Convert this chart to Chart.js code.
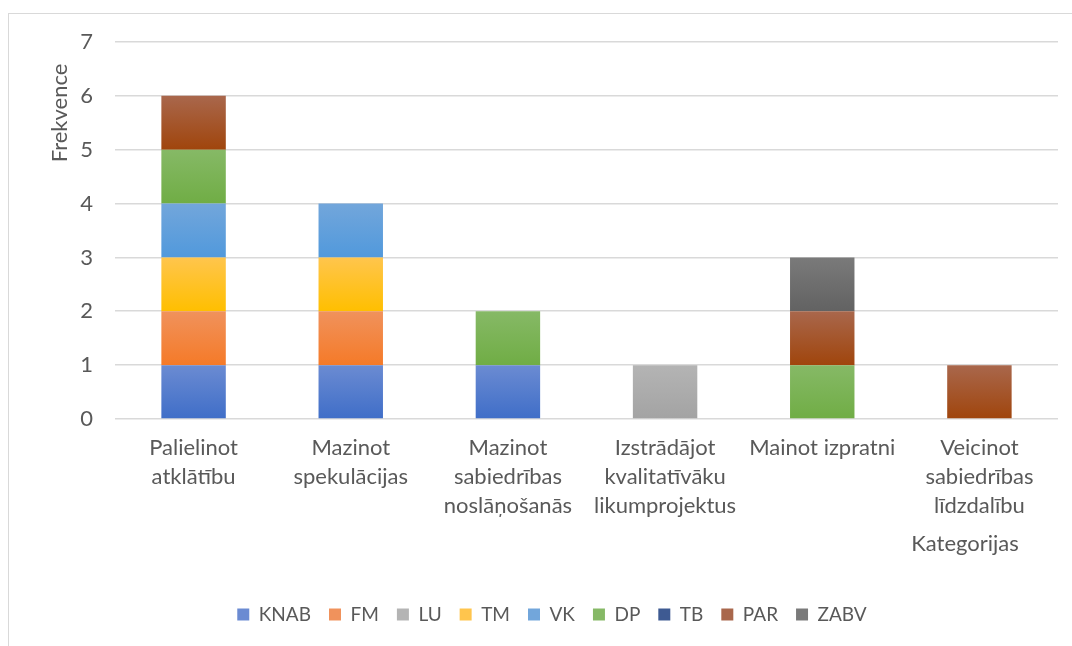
<!DOCTYPE html>
<html>
<head>
<meta charset="utf-8">
<script src="https://cdn.jsdelivr.net/npm/chart.js@4.4.1/dist/chart.umd.min.js"></script>
<style>
  body { margin: 0; background: #fff; }
  #frame { position: absolute; left: 8px; top: 13px; width: 1100px; height: 700px; border-left: 1.5px solid #d9d9d9; border-top: 1.5px solid #d9d9d9; }
  #wrap { position: absolute; left: 0; top: 0; width: 1072px; height: 646px; }
</style>
</head>
<body>
<div id="frame"></div>
<div id="wrap"><canvas id="chart"></canvas></div>
<script>
// categories (x axis), multi-line like in the original
var categories = [
  ["Palielinot", "atklātību"],
  ["Mazinot", "spekulācijas"],
  ["Mazinot", "sabiedrības", "noslāņošanās"],
  ["Izstrādājot", "kvalitatīvāku", "likumprojektus"],
  ["Mainot izpratni"],
  ["Veicinot", "sabiedrības", "līdzdalību"]
];

// one array per institution
var dataKNAB = [1, 1, 1, 0, 0, 0];
var dataFM   = [1, 1, 0, 0, 0, 0];
var dataLU   = [0, 0, 0, 1, 0, 0];
var dataTM   = [1, 1, 0, 0, 0, 0];
var dataVK   = [1, 1, 0, 0, 0, 0];
var dataDP   = [1, 0, 1, 0, 1, 0];
var dataTB   = [0, 0, 0, 0, 0, 0];
var dataPAR  = [1, 0, 0, 0, 1, 1];
var dataZABV = [0, 0, 0, 0, 1, 0];

var yTicks = [0, 1, 2, 3, 4, 5, 6, 7];

// [light top, dark bottom] like the excel gradient
var colKNAB = ["#6b8bd2", "#3f6ec8"];
var colFM   = ["#f0925c", "#f57a28"];
var colLU   = ["#b4b4b4", "#a3a3a3"];
var colTM   = ["#ffc54d", "#ffbf00"];
var colVK   = ["#72a6db", "#5199dc"];
var colDP   = ["#86b966", "#70ad45"];
var colTB   = ["#3e5a92", "#22427a"];
var colPAR  = ["#a9674c", "#a0450c"];
var colZABV = ["#7a7a7a", "#626262"];

var textColor = "#595959";
var fontName = "Lato, 'Open Sans', sans-serif";

var series = [
  ["KNAB", dataKNAB, colKNAB],
  ["FM", dataFM, colFM],
  ["LU", dataLU, colLU],
  ["TM", dataTM, colTM],
  ["VK", dataVK, colVK],
  ["DP", dataDP, colDP],
  ["TB", dataTB, colTB],
  ["PAR", dataPAR, colPAR],
  ["ZABV", dataZABV, colZABV]
];

// gradient for one stacked segment, from its own top to bottom
function segmentFill(ctx, idx) {
  var chart = ctx.chart;
  var cols = series[idx][2];
  if (!chart.chartArea || !chart.scales.y || ctx.type !== "data") return cols[0];
  var j = ctx.dataIndex;
  var base = 0;
  for (var k = 0; k < idx; k++) base += series[k][1][j];
  var top = base + series[idx][1][j];
  var y0 = chart.scales.y.getPixelForValue(base);
  var y1 = chart.scales.y.getPixelForValue(top);
  if (y0 === y1) return cols[0];
  var g = chart.ctx.createLinearGradient(0, y1, 0, y0);
  g.addColorStop(0, cols[0]);
  g.addColorStop(1, cols[1]);
  return g;
}

var datasets = series.map(function (s, i) {
  return {
    label: s[0],
    data: s[1],
    backgroundColor: function (ctx) { return segmentFill(ctx, i); },
    borderWidth: 0,
    categoryPercentage: 0.82,
    barPercentage: 0.5
  };
});

// axis titles drawn by hand, placed like in the original
var axisTitles = {
  id: "axisTitles",
  afterDraw: function (chart) {
    var c = chart.ctx;
    c.save();
    c.fillStyle = textColor;
    c.font = "22px " + fontName;
    c.textAlign = "center";
    c.textBaseline = "middle";
    c.save();
    c.translate(60, 113);
    c.rotate(-Math.PI / 2);
    c.fillText("Frekvence", 0, 0);
    c.restore();
    c.fillText("Kategorijas", 965, 544);
    c.restore();
  }
};

new Chart(document.getElementById("chart"), {
  type: "bar",
  data: { labels: categories, datasets: datasets },
  plugins: [axisTitles],
  options: {
    responsive: true,
    maintainAspectRatio: false,
    animation: false,
    layout: { padding: { left: 46, right: 14, top: 42, bottom: 12 } },
    plugins: {
      tooltip: { enabled: false },
      legend: {
        position: "bottom",
        labels: {
          color: textColor,
          font: { family: fontName, size: 19 },
          boxWidth: 12,
          boxHeight: 12,
          padding: 18,
          generateLabels: function (chart) {
            return series.map(function (s, i) {
              return {
                text: s[0],
                fillStyle: s[2][0],
                strokeStyle: s[2][0],
                lineWidth: 0,
                fontColor: textColor,
                hidden: false,
                datasetIndex: i
              };
            });
          }
        }
      }
    },
    scales: {
      x: {
        stacked: true,
        grid: { display: false, drawTicks: false },
        border: { display: false },
        ticks: {
          color: textColor,
          font: { family: fontName, size: 22, lineHeight: 1.33 },
          maxRotation: 0,
          autoSkip: false,
          padding: 14
        },
        afterFit: function (scale) { scale.height = 168; }
      },
      y: {
        stacked: true,
        min: 0,
        max: 7,
        afterBuildTicks: function (scale) {
          scale.ticks = yTicks.map(function (v) { return { value: v }; });
        },
        grid: { color: "#d9d9d9", lineWidth: 1.6, drawTicks: false },
        border: { display: false },
        ticks: {
          color: textColor,
          font: { family: fontName, size: 22 },
          padding: 22
        },
        afterFit: function (scale) { scale.width = 69; }
      }
    }
  }
});
</script>
</body>
</html>
